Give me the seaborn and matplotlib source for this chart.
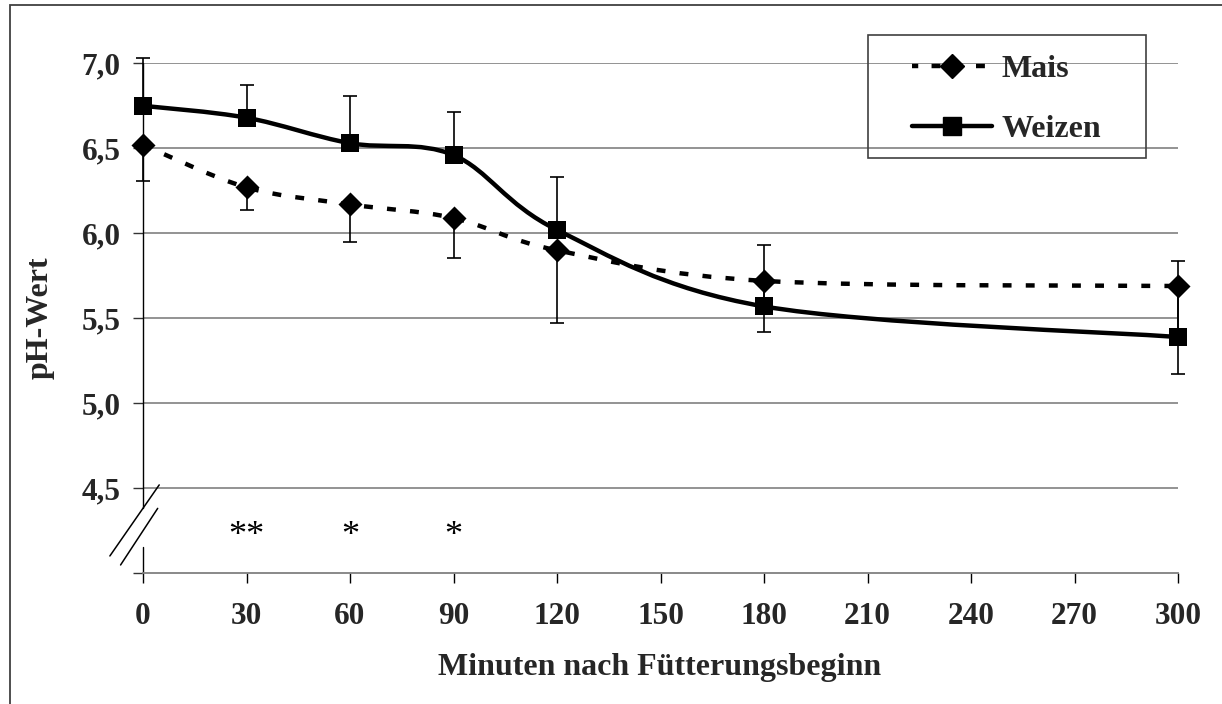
import numpy as np
import pandas as pd
import matplotlib
matplotlib.use("Agg")
import matplotlib.pyplot as plt
import seaborn as sns
from matplotlib.path import Path
from matplotlib.patches import PathPatch, Rectangle
from matplotlib.lines import Line2D

# ---------------- data ----------------
minutes = [0, 30, 60, 90, 120, 180, 300]
mais = [6.52, 6.27, 6.17, 6.09, 5.90, 5.72, 5.69]
mais_err_down = [0.21, 0.13, 0.22, 0.235, 0.43, 0.30, 0.52]
weizen = [6.75, 6.68, 6.53, 6.46, 6.02, 5.57, 5.39]
weizen_err_up = [0.28, 0.19, 0.28, 0.255, 0.31, 0.36, 0.45]
star_x = [30, 60, 90]
star_txt = ["**", "*", "*"]
star_y = 4.215
x_ticks = [0, 30, 60, 90, 120, 150, 180, 210, 240, 270, 300]
y_ticks = [4.0, 4.5, 5.0, 5.5, 6.0, 6.5, 7.0]
y_ticklabels = ["", "4,5", "5,0", "5,5", "6,0", "6,5", "7,0"]
series_names = ["Mais", "Weizen"]
x_label = "Minuten nach Fütterungsbeginn"
y_label = "pH-Wert"

sns.set_theme(style="white")
plt.rcParams["font.family"] = ["Liberation Serif", "DejaVu Serif"]

W, H = 1222, 704
fig = plt.figure(figsize=(W / 100, H / 100), dpi=100)
ax = fig.add_axes([143 / W, 130.7 / H, 1035 / W, 510 / H])
ax.set_xlim(0, 300)
ax.set_ylim(4.0, 7.0)

# grid lines
for yv in y_ticks[1:]:
    ax.axhline(yv, color="#808080", lw=1.2, zorder=0.5)

for s in ["top", "right", "left"]:
    ax.spines[s].set_visible(False)
ax.spines["bottom"].set_color("#808080")
ax.spines["bottom"].set_linewidth(1.3)

# broken y axis line
ax.plot([0, 0], [4.0, 4.156], color="black", lw=1.0, zorder=2, clip_on=False)
ax.plot([0, 0], [4.384, 7.0], color="black", lw=1.0, zorder=2, clip_on=False)
# break marks
ax.plot([-9.6, 4.7], [4.102, 4.52], color="black", lw=1.1, clip_on=False, zorder=2)
ax.plot([-6.5, 4.26], [4.049, 4.382], color="black", lw=1.1, clip_on=False, zorder=2)

ax.set_xticks(x_ticks)
ax.set_xticklabels([str(v) for v in x_ticks], fontsize=22.5, fontweight="bold")
ax.set_yticks(y_ticks)
ax.set_yticklabels(y_ticklabels, fontsize=22.5, fontweight="bold")
ax.tick_params(axis="x", direction="out", length=7, width=1.0, color="black", pad=14, bottom=True)
ax.tick_params(axis="y", direction="out", length=7, width=1.0, color="#333333", pad=9, left=True)
ax.grid(False)


def smooth_path(xs, ys):
    pts = np.column_stack([xs, ys]).astype(float)
    n = len(pts)
    verts = [pts[0]]
    codes = [Path.MOVETO]
    for i in range(n - 1):
        p0 = pts[i - 1] if i > 0 else pts[i]
        p1 = pts[i]
        p2 = pts[i + 1]
        p3 = pts[i + 2] if i + 2 < n else pts[i + 1]
        c1 = p1 + (p2 - p0) / 6.0
        c2 = p2 - (p3 - p1) / 6.0
        verts += [c1, c2, p2]
        codes += [Path.CURVE4] * 3
    return Path(verts, codes)


dash_style = (0, (2.0, 3.2))

# error bars (one-sided)
ax.errorbar(minutes, weizen, yerr=[np.zeros(len(weizen)), weizen_err_up], fmt="none",
            ecolor="black", elinewidth=1.2, capsize=5, capthick=1.2, zorder=2, clip_on=False)
ax.errorbar(minutes, mais, yerr=[mais_err_down, np.zeros(len(mais))], fmt="none",
            ecolor="black", elinewidth=1.2, capsize=5, capthick=1.2, zorder=2, clip_on=False)

# smoothed lines
ax.add_patch(PathPatch(smooth_path(minutes, mais), fill=False, edgecolor="black", lw=3.2,
                       linestyle=dash_style, zorder=3))
ax.add_patch(PathPatch(smooth_path(minutes, weizen), fill=False, edgecolor="black", lw=3.2,
                       linestyle="-", zorder=3))

# markers
df_m = pd.DataFrame({"Minuten": minutes, "pH": mais})
df_w = pd.DataFrame({"Minuten": minutes, "pH": weizen})
sns.scatterplot(data=df_m, x="Minuten", y="pH", marker="D", s=150, color="black",
                edgecolor="black", linewidth=0, ax=ax, zorder=4, legend=False, clip_on=False)
sns.scatterplot(data=df_w, x="Minuten", y="pH", marker="s", s=165, color="black",
                edgecolor="black", linewidth=0, ax=ax, zorder=4, legend=False, clip_on=False)
ax.set_xlabel("")
ax.set_ylabel("")

# significance stars
for xs, t in zip(star_x, star_txt):
    ax.text(xs, star_y, t, ha="center", va="center", fontsize=26, color="black")

# axis labels
fig.text(660 / W, 1 - 668 / H, x_label, ha="center", va="center", fontsize=23, fontweight="bold")
fig.text(40 / W, 1 - 318 / H, y_label, ha="center", va="center", rotation=90, fontsize=23,
         fontweight="bold")

# legend box
fig.add_artist(Rectangle((868 / W, 1 - 158 / H), (1146 - 868) / W, (158 - 35) / H,
                         transform=fig.transFigure, fill=False, edgecolor="#404040", lw=1.2))
handles = [
    Line2D([], [], color="black", lw=3.2, linestyle=(0.6, (2.0, 3.0)), marker="D", markersize=12),
    Line2D([], [], color="black", lw=3.2, linestyle="-", marker="s", markersize=13),
]
leg = ax.legend(handles, series_names, loc="upper left", bbox_to_anchor=(912 / W, 1 - 55 / H),
                bbox_transform=fig.transFigure, frameon=False, borderpad=0, borderaxespad=0,
                handlelength=2.5, handletextpad=0.3, labelspacing=0.95,
                prop={"size": 23, "weight": "bold"})

# outer frame
fig.add_artist(Rectangle((10 / W, -0.05), 1.2, (H - 5) / H + 0.05, transform=fig.transFigure,
                         fill=False, edgecolor="#404040", lw=1.3))

fig.savefig("out.png", dpi=100)
